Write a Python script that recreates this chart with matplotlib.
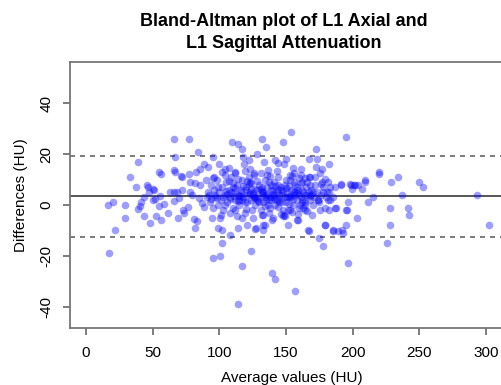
import numpy as np
import matplotlib
matplotlib.use('Agg')
import matplotlib.pyplot as plt

plt.rcParams['font.family'] = ['Liberation Sans', 'DejaVu Sans']

title = "Bland-Altman plot of L1 Axial and\nL1 Sagittal Attenuation"
x_label = "Average values (HU)"
y_label = "Differences (HU)"
x_ticks = [0, 50, 100, 150, 200, 250, 300]
y_ticks = [-40, -20, 0, 20, 40]

mean_diff = 3.5
upper_loa = 19.4
lower_loa = -12.5

# outer points (average, difference)
outer_avg = [17.5, 95.5, 100.2, 124.0, 117.2, 139.5, 141.8, 157.0, 113.7, 196.8,
             153.5, 194.8, 132.2, 134.7, 147.7, 172.3, 220.0, 219.5, 228.8, 233.8,
             249.8, 252.8, 237.0, 293.3, 302.0, 227.8, 241.8, 242.3, 228.3, 225.5,
             209.5, 209.0, 203.5, 215.5, 211.5, 178.0, 175.0, 195.2, 192.8, 189.0,
             185.3, 179.3, 167.3, 195.2, 187.8, 196.8, 198.8, 201.3, 204.3, 207.3,
             199.8, 191.3, 186.8, 182.3, 177.3, 172.8, 173.3, 167.3, 161.3, 181.3,
             176.3, 178.0, 182.3, 183.0, 181.5, 174.3, 182.3, 175.8, 151.3, 158.8,
             133.0, 127.3, 133.0, 163.0, 164.3, 153.0, 154.3, 148.3, 139.3, 133.0]
outer_diff = [-19.0, -21.0, -20.1, -18.1, -23.9, -26.9, -29.0, -33.9, -38.9, -23.0,
              28.9, 26.9, 25.9, 23.0, 24.9, 21.9, 12.2, 13.0, 9.1, 10.9,
              9.1, 7.1, 4.1, 4.1, -8.0, -1.1, -1.1, -4.1, -8.0, -15.0,
              9.8, 9.0, -5.0, 3.0, 1.0, -16.0, -12.9, -8.0, -11.2, -10.1,
              -10.1, -8.0, -10.1, -2.0, -1.1, 1.0, 7.9, 7.9, 7.9, 6.2,
              6.2, 7.9, 7.2, 16.1, 14.3, 15.0, 18.0, 18.0, 14.0, 9.2,
              8.1, 5.1, 5.1, 2.0, 2.0, 2.0, -2.0, -2.0, -8.0, -6.0,
              -8.0, -9.0, -10.0, -1.0, -0.1, -2.0, -2.9, -4.0, -5.9, -4.0]

# left side of the cloud
left_avg = [66.2, 77.3, 83.7, 38.8, 66.8, 55.0, 56.0, 32.7, 37.5, 46.8,
            66.0, 71.3, 77.5, 82.5, 85.3, 88.5, 91.8, 95.0, 67.0, 71.8,
            50.5, 78.0, 81.8, 85.3, 89.8, 95.5, 16.3, 20.5, 21.8, 29.0,
            29.5, 38.8, 40.5, 41.3, 43.5, 47.8, 47.3, 45.5, 51.0, 50.0,
            52.3, 56.0, 54.5, 58.5, 61.8, 63.0, 66.0, 68.8, 69.5, 71.8,
            73.8, 76.5, 79.3, 81.3, 82.0, 83.0, 86.8, 90.5, 94.3, 43.5,
            51.8, 55.3, 65.8, 68.0, 73.0, 78.0, 85.0, 88.5, 91.8]
left_diff = [25.9, 25.9, 20.9, 16.9, 18.9, 12.9, 12.1, 10.9, 7.1, 7.1,
             13.8, 11.4, 12.2, 13.1, 14.0, 16.0, 15.0, 18.9, 13.1, 10.9,
             6.3, 9.1, 8.8, 8.0, 9.8, 10.5, -0.1, 1.1, -10.0, -0.1,
             -5.1, -1.7, -0.3, 1.3, -4.2, -7.0, 5.2, 7.7, 6.0, 2.0,
             -4.2, -5.9, -0.4, 0.5, -3.0, 5.0, 1.6, -5.0, 2.6, 6.0,
             -3.3, -0.9, 3.9, -5.6, -8.9, -6.2, 0.7, 3.3, -5.2, 3.3,
             2.5, 3.7, 5.2, 5.2, -2.0, 5.2, 2.6, -0.7, 5.2]

# upper and lower edges of the middle
mid_avg = [109.8, 114.3, 117.3, 128.0, 122.3, 117.8, 99.8, 118.8, 133.8, 141.8,
           150.3, 148.5, 143.8, 123.0, 104.3, 111.8, 126.3, 136.8, 154.8, 168.0,
           175.5, 179.3, 191.3, 198.0, 201.8, 101.8, 99.3, 102.3, 108.0, 114.3,
           120.5, 126.8, 134.3, 140.5, 148.0, 158.0, 166.8, 169.3, 179.3, 185.5,
           191.8, 195.5, 186.8, 180.5, 100.5, 104.3, 111.8, 116.8, 124.3, 131.8,
           136.8, 144.3, 151.8, 160.5, 164.3, 98.0]
mid_diff = [24.8, 23.9, 21.9, 20.0, 17.7, 19.0, 16.0, 16.0, 16.9, 17.7,
            18.0, 16.0, 16.7, 14.0, 14.0, 12.5, 12.7, 13.8, 11.4, 11.1,
            12.5, 10.1, 8.3, 8.3, 7.9, -15.1, -9.2, -9.8, -11.8, -9.2,
            -7.9, -9.6, -7.9, -5.2, -4.3, -5.9, -9.8, -3.9, -7.9, -9.8,
            -9.8, -2.0, -1.3, 5.2, -5.2, 0.0, -2.0, -5.2, -2.0, -3.9,
            0.0, -0.7, -2.0, 0.0, -2.0, 2.6]

# dense core of the cloud
core_avg = [92, 93, 94, 95, 96, 97, 98, 99, 100, 101, 102, 103, 104, 105, 106, 107,
            108, 109, 110, 111, 112, 113, 114, 115, 116, 117, 118, 119, 120, 121,
            122, 123, 124, 125, 126, 127, 128, 129, 130, 131, 132, 133, 134, 135,
            136, 137, 138, 139, 140, 141, 142, 143, 144, 145, 146, 147, 148, 149,
            150, 151, 152, 153, 154, 155, 156, 157, 158, 159, 160, 161, 162, 163,
            164, 165, 166, 167, 168, 169, 170, 171, 172, 173, 175, 176, 178, 180,
            94, 96, 99, 101, 104, 106, 108, 110, 112, 114, 116, 118, 120, 122,
            124, 126, 128, 130, 132, 134, 136, 138, 140, 142, 144, 146, 148, 150,
            152, 154, 156, 158, 160, 162, 164, 166, 168, 170, 172, 174, 177, 179,
            183, 185, 97, 103, 109, 115, 121, 127, 133, 139, 145, 151, 157, 163,
            169, 102, 107, 119, 131, 143, 155, 161, 113, 125, 137, 149, 159,
            111, 117, 123, 129, 135, 141, 147, 153, 120, 132, 144, 156, 126, 138,
            105, 108, 112, 115, 119, 122, 125, 128, 131, 134, 137, 140, 143, 146,
            149, 152, 155, 158, 161, 164, 167, 110, 116, 121, 127, 133, 139, 145,
            150, 156, 162, 168, 107, 114, 124, 136, 142, 153, 160, 166]
core_diff = [4, 1, 8, -1, 6, 3, 10, 0, 5, 2, 7, -2, 4, 9, 1, 6,
             3, 11, -1, 5, 2, 8, 4, 0, 6, 10, 3, -3, 7, 1,
             5, 9, 2, 4, 12, 0, 6, 3, 8, -2, 5, 1, 10, 4,
             7, 2, -1, 6, 3, 9, 0, 5, 11, 2, 7, 4, -2, 8,
             1, 5, 3, 10, 6, 0, 4, 8, 2, 6, -1, 3, 9, 5,
             1, 7, 4, 11, 2, 6, 0, 3, 8, 5, 1, 4, 7, 3,
             2.5, 11, 7, -4, 12, 4.5, -3, 8.5, 13, 1.5, 3.5, 7.5, -1.5, 11,
             6.5, 3, 9.5, 1, 7, -0.5, 4.5, 11.5, 6, 2.5, 8, -3.5, 5.5, 10,
             0.5, 3, 12.5, 7, 4, 1, 10.5, -2.5, 8, 5, 11, 2, 9, -1,
             7, 3, 4, 3, 5, 2, 4, 3, 5, 2, 4, 3, 5, 2,
             4, 13, 14.5, 13.5, 12.5, 13.5, 14.5, 12, -4.5, -5, -3, -4.5, -3.5,
             3.5, 2, 4.5, 1.5, 2.5, 4, 1, 3.5, 6, 5.5, 6.5, 5, 2.8, 3.2,
             5.5, 2.2, 6.8, 3.6, 1.2, 8.2, 4.8, 2.4, 6.2, 3.1, 9.0, 4.2, 1.8, 5.8,
             3.0, 7.4, 2.2, 4.6, 8.6, 3.8, 5.2, 7.0, 5.0, 9.4, 6.2, 4.0, 7.8, 1.0,
             6.6, 9.2, 6.0, 3.4, 9.6, 10.2, 8.8, 12.0, 7.6, 11.8, 10.6, 9.0]

avg = np.array(outer_avg + left_avg + mid_avg + core_avg, dtype=float)
diff = np.array(outer_diff + left_diff + mid_diff + core_diff, dtype=float)

fig = plt.figure(figsize=(5.01, 3.85), dpi=100)
ax = fig.add_axes([70 / 501, 57 / 385, 442.7 / 501, 266 / 385])

ax.scatter(avg, diff, s=30, color='#0000ff', alpha=0.38, linewidths=0, zorder=3)
ax.axhline(mean_diff, color='#555555', lw=1.4, zorder=2)
ax.axhline(upper_loa, color='#666666', lw=1.2, ls=(0, (3, 3)), zorder=2)
ax.axhline(lower_loa, color='#666666', lw=1.2, ls=(0, (3, 3)), zorder=2)

ax.set_xlim(-12, 320)
ax.set_ylim(-48.4, 56.3)
ax.set_xticks(x_ticks)
ax.set_yticks(y_ticks)
ax.set_yticklabels([str(v) for v in y_ticks], rotation=90, va='center')

for sp in ax.spines.values():
    sp.set_color('#777777')
    sp.set_linewidth(1.3)
ax.tick_params(axis='both', length=5, width=1.2, color='#666666', labelsize=11)
ax.tick_params(axis='x', pad=8)
ax.tick_params(axis='y', pad=7)

ax.set_xlabel(x_label, fontsize=11, labelpad=8)
ax.set_ylabel(y_label, fontsize=11, labelpad=8)
fig.text(0.566, 0.965, title, ha='center', va='top',
         fontsize=13, fontweight='bold', linespacing=1.35)

fig.savefig('out.png', dpi=100)
